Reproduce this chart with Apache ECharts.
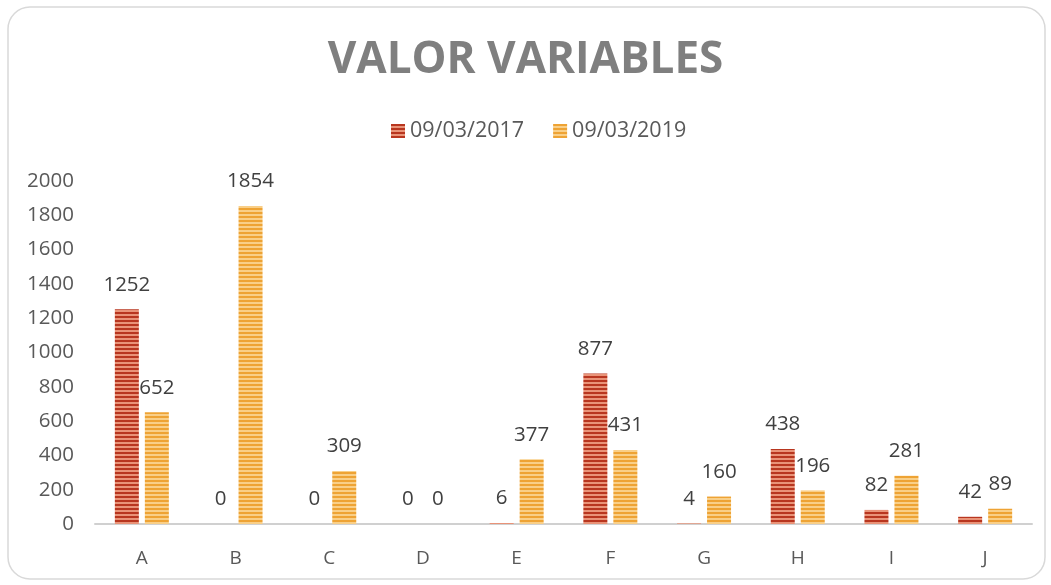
<!DOCTYPE html>
<html><head><meta charset="utf-8">
<script src="https://cdn.jsdelivr.net/npm/echarts@6/dist/echarts.min.js"></script>
<style>html,body{margin:0;padding:0;background:#fff}#c{width:1051px;height:585px}</style>
</head><body><div id="c"></div>
<script>
const categories = ['A','B','C','D','E','F','G','H','I','J'];
const values2017 = [1252, 0, 0, 0, 6, 877, 4, 438, 82, 42];
const values2019 = [652, 1854, 309, 0, 377, 431, 160, 196, 281, 89];
const seriesNames = ['09/03/2017', '09/03/2019'];
const yTicks = [0, 200, 400, 600, 800, 1000, 1200, 1400, 1600, 1800, 2000];

function stripes(dark, light) {
  const cv = document.createElement('canvas');
  cv.width = 4; cv.height = 4;
  const ctx = cv.getContext('2d');
  ctx.fillStyle = dark; ctx.fillRect(0, 0, 4, 2);
  ctx.fillStyle = light; ctx.fillRect(0, 2, 4, 2);
  return {image: cv, repeat: 'repeat'};
}
const redPat = stripes('#b8361f', '#e99378');
const yelPat = stripes('#eea334', '#f9cf88');

const chart = echarts.init(document.getElementById('c'));
const font = '"Open Sans", sans-serif';
const labelStyle = {show: true, position: 'top', distance: 14, color: '#404040', fontSize: 20.5, fontFamily: font};
chart.setOption({
  animation: false,
  title: {
    text: 'VALOR VARIABLES',
    left: 'center', top: 33,
    textStyle: {fontFamily: font, fontWeight: 'bold', fontSize: 44, color: '#7f7f7f'}
  },
  graphic: [{
    type: 'rect', shape: {x: 8, y: 7, width: 1037, height: 572, r: 22},
    style: {fill: 'none', stroke: '#d9d9d9', lineWidth: 1.5}, z: -1
  }],
  legend: {
    top: 115, left: 386, itemWidth: 14, itemHeight: 14, itemGap: 29,
    textStyle: {fontFamily: font, fontSize: 21.5, color: '#595959'},
    data: [
      {name: seriesNames[0], icon: 'rect', itemStyle: {color: redPat}},
      {name: seriesNames[1], icon: 'rect', itemStyle: {color: yelPat}}
    ]
  },
  grid: {left: 95, right: 19, top: 181, bottom: 61},
  xAxis: {
    type: 'category', data: categories,
    axisLine: {lineStyle: {color: '#d0d0d0', width: 2}},
    axisTick: {show: false},
    axisLabel: {color: '#595959', fontSize: 19, fontFamily: font, margin: 25}
  },
  yAxis: {
    type: 'value', min: yTicks[0], max: yTicks[yTicks.length - 1], interval: 200,
    splitLine: {show: false}, axisLine: {show: false}, axisTick: {show: false},
    axisLabel: {color: '#595959', fontSize: 20.5, fontFamily: font, margin: 21,
                formatter: v => String(v)}
  },
  series: [
    {name: seriesNames[0], type: 'bar', data: values2017, barWidth: 24, barGap: '25%',
     itemStyle: {color: redPat}, label: labelStyle},
    {name: seriesNames[1], type: 'bar', data: values2019, barWidth: 24,
     itemStyle: {color: yelPat}, label: labelStyle}
  ]
});
</script></body></html>
